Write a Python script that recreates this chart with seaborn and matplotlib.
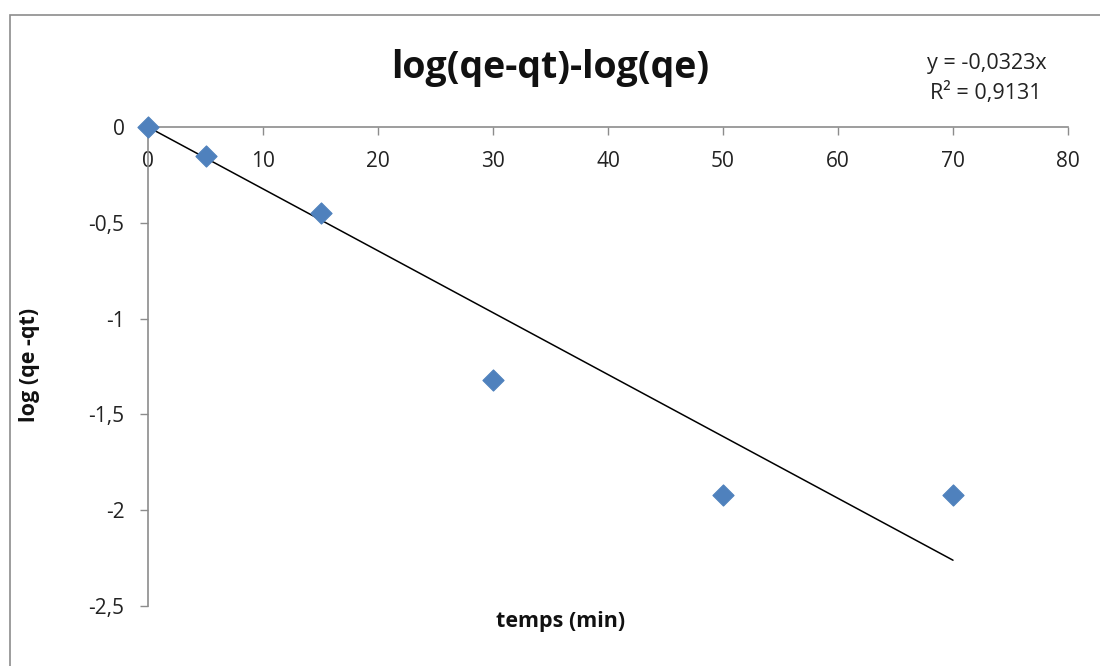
import numpy as np
import pandas as pd
import matplotlib
matplotlib.use("Agg")
import matplotlib.pyplot as plt
from matplotlib.patches import Rectangle
import seaborn as sns

# data
temps = [0, 5, 15, 30, 50, 70]
log_q = [0.0, -0.15, -0.45, -1.32, -1.92, -1.92]
slope = -0.0323
r2 = "0,9131"
x_ticks = [0, 10, 20, 30, 40, 50, 60, 70, 80]
y_ticks = [0, -0.5, -1, -1.5, -2, -2.5]

sns.set_theme()
sns.set_style("ticks")
plt.rcParams["font.family"] = ["Open Sans", "DejaVu Sans"]

df = pd.DataFrame({"temps": temps, "logq": log_q})
trend = pd.DataFrame({"temps": [0, 70]})
trend["logq"] = slope * trend["temps"]

fig = plt.figure(figsize=(11, 6.66), dpi=100)
# outer chart border (right / bottom edges fall outside the picture)
fig.patches.append(Rectangle((10 / 1100, -0.1), 1.2, 1.1 - 15 / 666, transform=fig.transFigure,
                             fill=False, edgecolor="#8c8c8c", linewidth=1.2))
ax = fig.add_axes([148 / 1100, 1 - 606 / 666, 920 / 1100, 479 / 666])

sns.lineplot(data=trend, x="temps", y="logq", ax=ax, color="black", linewidth=1.1)
sns.scatterplot(data=df, x="temps", y="logq", ax=ax, marker="D", s=115,
                color="#4F81BD", edgecolor="#4F81BD", zorder=3, clip_on=False)

ax.set_xlim(0, 80)
ax.set_ylim(-2.5, 0)
ax.spines["bottom"].set_position(("data", 0))
ax.spines["top"].set_visible(False)
ax.spines["right"].set_visible(False)
for s in ("left", "bottom"):
    ax.spines[s].set_color("#8c8c8c")
    ax.spines[s].set_linewidth(1.2)

ax.set_xticks(x_ticks)
ax.set_xticklabels([str(v) for v in x_ticks])
ax.set_yticks(y_ticks)
ax.set_yticklabels([("%g" % v).replace(".", ",") for v in y_ticks])
ax.tick_params(axis="both", direction="out", length=6, width=1, color="#8c8c8c",
               labelsize=15, labelcolor="#222222", bottom=True, left=True)
ax.tick_params(axis="x", pad=11)
ax.tick_params(axis="y", pad=11)

ax.set_xlabel("")
ax.set_ylabel("")
fig.text(561 / 1100, 1 - 622 / 666, "temps (min)", ha="center", va="center",
         fontsize=15.5, fontweight="bold", color="#111111")
fig.text(30 / 1100, 1 - 365 / 666, "log (qe -qt)", ha="center", va="center",
         rotation=90, fontsize=15.5, fontweight="bold", color="#111111")
fig.text(550 / 1100, 1 - 68 / 666, "log(qe-qt)-log(qe)", ha="center", va="center",
         fontsize=27, fontweight="bold", color="#111111")
fig.text(987 / 1100, 1 - 63 / 666, "y = -0,0323x", ha="center", va="center",
         fontsize=15.5, color="#222222")
fig.text(986 / 1100, 1 - 93 / 666, "R² = " + r2, ha="center", va="center",
         fontsize=15.5, color="#222222")

fig.savefig("out.png", dpi=100)
